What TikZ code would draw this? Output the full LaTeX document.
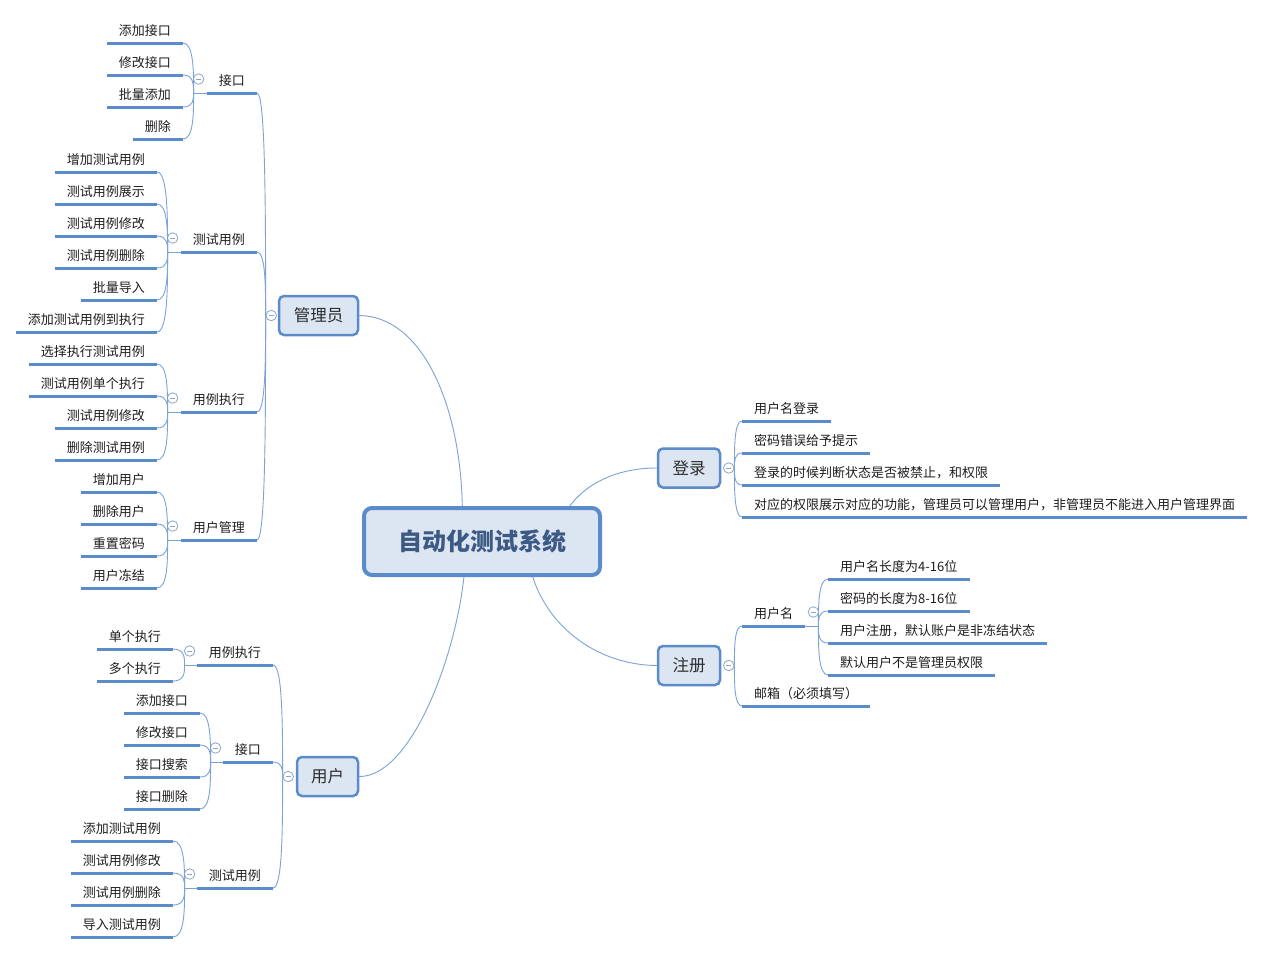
\documentclass[tikz,border=0pt]{standalone}
\usepackage{fontspec}
\setmainfont{Noto Sans CJK SC}
\usetikzlibrary{calc}
\definecolor{ucol}{HTML}{5B8BC9}
\definecolor{ccol}{HTML}{7BA3D6}
\definecolor{nfill}{HTML}{DCE6F2}
\definecolor{nborder}{HTML}{5B8BC9}
\definecolor{togcol}{HTML}{8EA6C6}
\definecolor{ctext}{HTML}{3C5A84}
\definecolor{mtext}{HTML}{2B2B2B}
\definecolor{ttext}{HTML}{1E1E1E}
\tikzset{
  uline/.style={draw=ucol, line width=3pt},
  conn/.style={draw=ccol, line width=0.9pt},
  item/.style={font=\fontsize{13}{14}\selectfont, text=ttext, inner xsep=12pt, inner ysep=7pt,
    text depth=0pt, text height=10pt,
    append after command={(\tikzlastnode.south west) edge[uline] (\tikzlastnode.south east)}},
  itemL/.style={item, anchor=south east},
  itemR/.style={item, anchor=south west},
  mainbox/.style={draw=nborder, fill=nfill, line width=2.5pt, rounded corners=5pt,
    minimum height=39pt, inner sep=0pt, font=\fontsize{16.5}{18}\selectfont, text=mtext},
  centralbox/.style={draw=nborder, fill=nfill, line width=4pt, rounded corners=8pt,
    minimum width=236pt, minimum height=67pt, inner sep=0pt,
    font=\fontsize{24}{26}\selectfont\bfseries, text=ctext},
  tog/.style={circle, draw=togcol, fill=white, minimum size=10.5pt, inner sep=0pt, line width=0.8pt,
    path picture={\draw[togcol, line width=0.8pt] ([xshift=-2.6pt]path picture bounding box.center) -- ([xshift=2.6pt]path picture bounding box.center);}}
}
\newcommand\mmconn[2]{\draw[conn] (#1) .. controls ($(#1)!0.45!(#1 |- #2)$) and (#1 |- #2) .. (#2);}
\begin{document}
\begin{tikzpicture}[x=1pt, y=-1pt]
\fill[white] (0,0) rectangle (1266,954);
\useasboundingbox (0,0) rectangle (1266,954);

% ---------------- central
\node[centralbox] (c) at (482,541.5) {自动化测试系统};

% ---------------- 管理员
\node[mainbox, minimum width=79pt] (gl) at (318.5,315.5) {管理员};
\node[tog] (gl-t) at ([xshift=-6.5pt]gl.west) {};
\coordinate (gl-j) at (gl-t.west);
\draw[conn] (gl.east) .. controls (420,316) and (460,400) .. (c.119.4);

\node[itemL] (a1) at (257,93) {接口};
\node[itemL] (a2) at (257,252) {测试用例};
\node[itemL] (a3) at (257,412) {用例执行};
\node[itemL] (a4) at (257,540) {用户管理};
\foreach \n in {a1,a2,a3,a4}{
  \mmconn{gl-j}{\n.south east}
  \coordinate (\n-j) at ([xshift=-13pt]\n.south west);
  \node[tog] at ([xshift=5pt,yshift=14pt]\n-j) {};
  \draw[conn] (\n-j) -- (\n.south west);
}
% 接口 children
\node[itemL] (a1-1) at (183,43) {添加接口};
\node[itemL] (a1-2) at (183,75) {修改接口};
\node[itemL] (a1-3) at (183,107) {批量添加};
\node[itemL] (a1-4) at (183,139) {删除};
\foreach \n in {1,...,4}{\mmconn{a1-j}{a1-\n.south east}}
% 测试用例 children
\node[itemL] (a2-1) at (157,172) {增加测试用例};
\node[itemL] (a2-2) at (157,204) {测试用例展示};
\node[itemL] (a2-3) at (157,236) {测试用例修改};
\node[itemL] (a2-4) at (157,268) {测试用例删除};
\node[itemL] (a2-5) at (157,300) {批量导入};
\node[itemL] (a2-6) at (157,332) {添加测试用例到执行};
\foreach \n in {1,...,6}{\mmconn{a2-j}{a2-\n.south east}}
% 用例执行 children
\node[itemL] (a3-1) at (157,364) {选择执行测试用例};
\node[itemL] (a3-2) at (157,396) {测试用例单个执行};
\node[itemL] (a3-3) at (157,428) {测试用例修改};
\node[itemL] (a3-4) at (157,460) {删除测试用例};
\foreach \n in {1,...,4}{\mmconn{a3-j}{a3-\n.south east}}
% 用户管理 children
\node[itemL] (a4-1) at (157,492) {增加用户};
\node[itemL] (a4-2) at (157,524) {删除用户};
\node[itemL] (a4-3) at (157,556) {重置密码};
\node[itemL] (a4-4) at (157,588) {用户冻结};
\foreach \n in {1,...,4}{\mmconn{a4-j}{a4-\n.south east}}

% ---------------- 用户
\node[mainbox, minimum width=61pt] (yh) at (327.5,776.5) {用户};
\node[tog] (yh-t) at ([xshift=-7.5pt]yh.west) {};
\coordinate (yh-j) at (yh-t.west);
\draw[conn] (yh.east) .. controls (410,777) and (455,660) .. (c.243.1);

\node[itemL] (u1) at (273,665) {用例执行};
\node[itemL] (u2) at (273,762) {接口};
\node[itemL] (u3) at (273,888) {测试用例};
\foreach \n in {u1,u2,u3}{
  \mmconn{yh-j}{\n.south east}
  \coordinate (\n-j) at ([xshift=-12pt]\n.south west);
  \node[tog] at ([xshift=5pt,yshift=14pt]\n-j) {};
  \draw[conn] (\n-j) -- (\n.south west);
}
\node[itemL] (u1-1) at (173,649) {单个执行};
\node[itemL] (u1-2) at (173,681) {多个执行};
\foreach \n in {1,2}{\mmconn{u1-j}{u1-\n.south east}}
\node[itemL] (u2-1) at (200,713) {添加接口};
\node[itemL] (u2-2) at (200,745) {修改接口};
\node[itemL] (u2-3) at (200,777) {接口搜索};
\node[itemL] (u2-4) at (200,809) {接口删除};
\foreach \n in {1,...,4}{\mmconn{u2-j}{u2-\n.south east}}
\node[itemL] (u3-1) at (173,841) {添加测试用例};
\node[itemL] (u3-2) at (173,873) {测试用例修改};
\node[itemL] (u3-3) at (173,905) {测试用例删除};
\node[itemL] (u3-4) at (173,937) {导入测试用例};
\foreach \n in {1,...,4}{\mmconn{u3-j}{u3-\n.south east}}

% ---------------- 登录
\node[mainbox, minimum width=62pt] (dl) at (689,468) {登录};
\node[tog] (dl-t) at ([xshift=7.5pt]dl.east) {};
\coordinate (dl-j) at (dl-t.east);
\draw[conn] (dl.west) .. controls (615,468) and (585,485) .. (c.22.7);
\node[itemR] (r1) at (742,421) {用户名登录};
\node[itemR] (r2) at (742,453) {密码错误给予提示};
\node[itemR] (r3) at (742,485) {登录的时候判断状态是否被禁止，和权限};
\node[itemR] (r4) at (742,517) {对应的权限展示对应的功能，管理员可以管理用户，非管理员不能进入用户管理界面};
\foreach \n in {1,...,4}{\mmconn{dl-j}{r\n.south west}}

% ---------------- 注册
\node[mainbox, minimum width=62pt] (zc) at (689,665.5) {注册};
\node[tog] (zc-t) at ([xshift=7.5pt]zc.east) {};
\coordinate (zc-j) at (zc-t.east);
\draw[conn] (zc.west) .. controls (600,665) and (550,630) .. (c.-35.9);
\node[itemR] (s1) at (742,626) {用户名};
\node[itemR] (s2) at (742,706) {邮箱（必须填写）};
\mmconn{zc-j}{s1.south west}
\mmconn{zc-j}{s2.south west}
\coordinate (s1-j) at ([xshift=13pt]s1.south east);
\node[tog] at ([xshift=-5pt,yshift=14pt]s1-j) {};
\draw[conn] (s1.south east) -- (s1-j);
\node[itemR] (s1-1) at (828,579) {用户名长度为4-16位};
\node[itemR] (s1-2) at (828,611) {密码的长度为8-16位};
\node[itemR] (s1-3) at (828,643) {用户注册，默认账户是非冻结状态};
\node[itemR] (s1-4) at (828,675) {默认用户不是管理员权限};
\foreach \n in {1,...,4}{\mmconn{s1-j}{s1-\n.south west}}
\end{tikzpicture}
\end{document}
